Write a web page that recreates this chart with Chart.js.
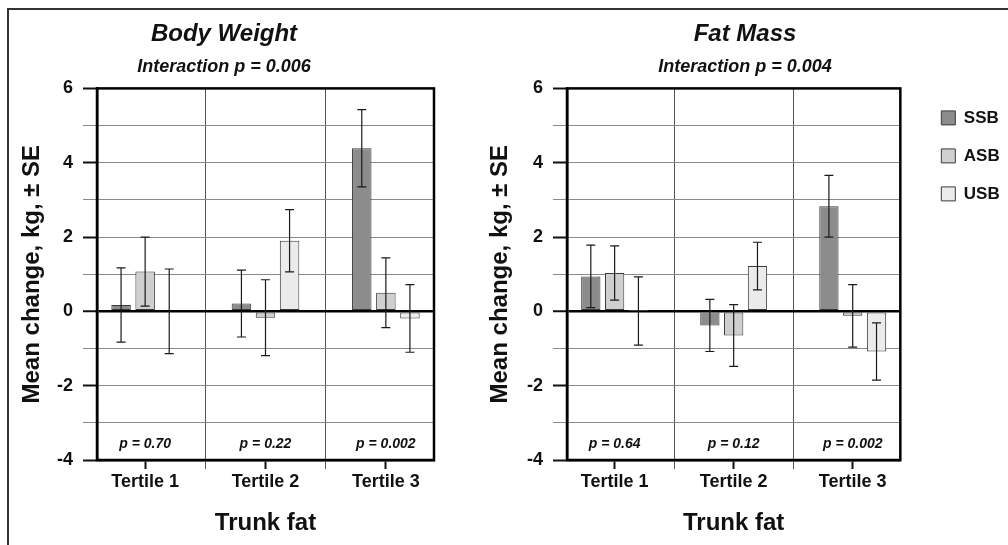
<!DOCTYPE html>
<html>
<head>
<meta charset="utf-8">
<script src="https://cdn.jsdelivr.net/npm/chart.js@4.4.1/dist/chart.umd.min.js"></script>
<style>
  html, body { margin: 0; padding: 0; background: #fff; overflow: hidden; }
  #frame { position: absolute; left: 7px; top: 8px; width: 1100px; height: 600px; border: 2px solid #333; }
  .box { position: absolute; top: 0; height: 545px; }
  #left { left: 0; width: 480px; }
  #right { left: 480px; width: 528px; }
</style>
</head>
<body>
<div id="frame"></div>
<div class="box" id="left"><canvas id="bw"></canvas></div>
<div class="box" id="right"><canvas id="fm"></canvas></div>
<script>
// positions of the three tertile groups on the x scale
const positions = [1, 2, 3];
const tertiles = ["Tertile 1", "Tertile 2", "Tertile 3"];
const xTicks = [1, 1.5, 2, 2.5, 3];
const groups = ["SSB", "ASB", "USB"];

// Body weight, mean change (kg) and SE
const bwSSB = [0.17, 0.21, 4.39];
const bwASB = [1.07, -0.17, 0.50];
const bwUSB = [0.00, 1.90, -0.19];
const bwSeSSB = [1.00, 0.90, 1.04];
const bwSeASB = [0.93, 1.02, 0.94];
const bwSeUSB = [1.14, 0.84, 0.91];
const bwP = ["p = 0.70", "p = 0.22", "p = 0.002"];

// Fat mass, mean change (kg) and SE
const fmSSB = [0.94, -0.38, 2.83];
const fmASB = [1.03, -0.65, -0.12];
const fmUSB = [0.01, 1.22, -1.08];
const fmSeSSB = [0.84, 0.70, 0.83];
const fmSeASB = [0.73, 0.83, 0.84];
const fmSeUSB = [0.92, 0.64, 0.77];
const fmP = ["p = 0.64", "p = 0.12", "p = 0.002"];

const fills = ["#8c8c8c", "#cfcfcf", "#ebebeb"];
const FONT = "'Liberation Sans', Arial, Helvetica, sans-serif";
Chart.defaults.font.family = FONT;
Chart.defaults.color = "#111";

// error bars drawn from the bar elements and the y scale
const errorBars = {
  id: "errorBars",
  afterDatasetsDraw(chart) {
    const ctx = chart.ctx, y = chart.scales.y;
    ctx.save();
    ctx.strokeStyle = "#1a1a1a";
    ctx.lineWidth = 1.2;
    chart.data.datasets.forEach((ds, d) => {
      chart.getDatasetMeta(d).data.forEach((bar, i) => {
        const v = ds.data[i], e = ds.errors[i];
        const top = y.getPixelForValue(v + e), bot = y.getPixelForValue(v - e);
        ctx.beginPath();
        ctx.moveTo(bar.x, top); ctx.lineTo(bar.x, bot);
        ctx.moveTo(bar.x - 4.5, top); ctx.lineTo(bar.x + 4.5, top);
        ctx.moveTo(bar.x - 4.5, bot); ctx.lineTo(bar.x + 4.5, bot);
        ctx.stroke();
      });
    });
    ctx.restore();
  }
};

// p values per tertile + frame round the plot area
const plotExtras = {
  id: "plotExtras",
  afterDraw(chart, args, opts) {
    const ctx = chart.ctx, a = chart.chartArea;
    const x = chart.scales.x, y = chart.scales.y;
    ctx.save();
    ctx.font = "italic bold 14px " + FONT;
    ctx.fillStyle = "#111";
    ctx.textAlign = "center";
    ctx.textBaseline = "middle";
    opts.pvals.forEach((t, i) => {
      ctx.fillText(t, x.getPixelForValue(positions[i]), y.getPixelForValue(-3.57));
    });
    ctx.strokeStyle = "#000";
    ctx.lineWidth = 2.5;
    ctx.strokeRect(a.left, a.top, a.right - a.left, a.bottom - a.top);
    ctx.restore();
  }
};

function makeChart(id, title, sub, series, errs, pvals, opt) {
  const datasets = groups.map((g, k) => ({
    label: g,
    data: series[k],
    errors: errs[k],
    backgroundColor: fills[k],
    borderColor: "#3a3a3a",
    borderWidth: 1,
    borderSkipped: false,
    categoryPercentage: 1.2,
    barPercentage: 0.81
  }));

  const scales = {
    x: {
      type: "linear",
      offset: false,
      min: 0.6, max: 3.4,
      afterBuildTicks: s => { s.ticks = xTicks.map(v => ({ value: v })); },
      afterFit: s => { s.height = 85; },
      ticks: {
        autoSkip: false, maxRotation: 0, padding: 2,
        font: { size: 18, weight: "bold" },
        callback: v => Number.isInteger(v) ? tertiles[v - 1] : ""
      },
      grid: {
        offset: false,
        color: c => (c.tick && c.tick.value % 1) ? "#555" : "rgba(0,0,0,0)",
        tickLength: 9,
        tickColor: c => (c.tick && c.tick.value % 1) ? "#555" : "#111",
        tickWidth: c => (c.tick && c.tick.value % 1) ? 1 : 2
      },
      border: { display: true, color: "#000", width: 2.5 },
      title: { display: true, text: "Trunk fat", font: { size: 24, weight: "bold" }, padding: { top: 0, bottom: 7 } }
    },
    y: {
      min: -4, max: 6,
      afterFit: s => { s.width = opt.yWidth; },
      ticks: {
        stepSize: 1, padding: 10,
        font: { size: 18, weight: "bold" },
        callback: v => v % 2 === 0 ? String(v) : ""
      },
      grid: {
        color: c => c.tick.value === 0 ? "#000" : "#8a8a8a",
        lineWidth: c => c.tick.value === 0 ? 2.5 : 1,
        tickLength: 14,
        tickColor: c => c.tick.value % 2 === 0 ? "#111" : "#8a8a8a",
        tickWidth: c => c.tick.value % 2 === 0 ? 2 : 1
      },
      border: { display: true, color: "#000", width: 2.5 },
      title: { display: true, text: "Mean change, kg, ± SE", font: { size: 24, weight: "bold" }, padding: { top: 4, bottom: 0 } }
    }
  };
  if (opt.legend) {
    // empty axis, only keeps a gap between plot and legend
    scales.gap = {
      type: "linear", position: "right", display: true,
      afterFit: s => { s.width = 20; },
      ticks: { display: false }, grid: { display: false }, border: { display: false }
    };
  }

  return new Chart(document.getElementById(id), {
    type: "bar",
    data: { labels: positions, datasets },
    options: {
      responsive: true,
      maintainAspectRatio: false,
      animation: false,
      layout: { padding: { left: opt.padLeft, right: opt.padRight, top: 0, bottom: 0 } },
      scales,
      plugins: {
        tooltip: { enabled: false },
        title: {
          display: true, text: title, color: "#111",
          font: { size: 24, weight: "bold", style: "italic" },
          padding: { top: 20, bottom: 2 }
        },
        subtitle: {
          display: true, text: sub, color: "#111",
          font: { size: 18, weight: "bold", style: "italic" },
          padding: { top: 5, bottom: 11 }
        },
        legend: {
          display: opt.legend, position: "right", align: "start", fullSize: false,
          labels: { boxWidth: 14, boxHeight: 14, padding: 21, color: "#111", font: { size: 17, weight: "bold" } }
        },
        plotExtras: { pvals }
      }
    },
    plugins: [errorBars, plotExtras]
  });
}

makeChart("bw", "Body Weight", "Interaction p = 0.006",
  [bwSSB, bwASB, bwUSB], [bwSeSSB, bwSeASB, bwSeUSB], bwP,
  { padLeft: 14, padRight: 46, yWidth: 83, legend: false });

makeChart("fm", "Fat Mass", "Interaction p = 0.004",
  [fmSSB, fmASB, fmUSB], [fmSeSSB, fmSeASB, fmSeUSB], fmP,
  { padLeft: 2, padRight: 0, yWidth: 85, legend: true });
</script>
</body>
</html>
